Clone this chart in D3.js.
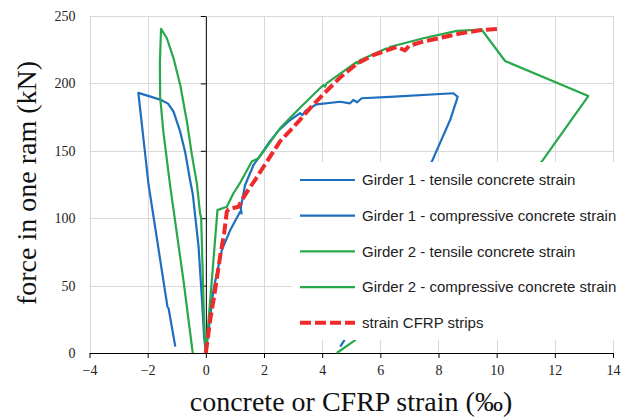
<!DOCTYPE html>
<html>
<head>
<meta charset="utf-8">
<script src="https://cdn.jsdelivr.net/npm/d3@7"></script>
<style>
    body { margin: 0; background: #fff; }
    svg { display: block; }
</style>
</head>
<body>
<svg id="chart" width="629" height="418"></svg>
<script>
"use strict";


//
// Data
//

var xTicks = [-4, -2, 0, 2, 4, 6, 8, 10, 12, 14];
var yTicks = [0, 50, 100, 150, 200, 250];

var seriesNames = [
    "Girder 1 - tensile concrete strain",
    "Girder 1 - compressive concrete strain",
    "Girder 2 - tensile concrete strain",
    "Girder 2 - compressive concrete strain",
    "strain CFRP strips"
];

// [strain (per mille), force (kN)]
var girder1Tensile = [
    [0, 0], [0.26, 46.7], [0.55, 76.4], [0.84, 91.2], [1.18, 104.8], [1.23, 103.5],
    [1.2, 107.5], [1.35, 124.6], [1.64, 139.5], [1.81, 144.5], [2.2, 157], [2.5, 165],
    [2.85, 172], [3.24, 178], [3.32, 176.5], [3.42, 179.5], [3.81, 184.5], [4.62, 186.4],
    [4.96, 185.2], [5.07, 187.7], [5.2, 186], [5.36, 189], [6.33, 190], [8.51, 192.7],
    [8.66, 190], [8.4, 172.8], [7.77, 142], [4.75, 9], [4.62, 4.7]
];

var girder1Compressive = [
    [0, 0], [-0.06, 12], [-0.14, 42], [-0.25, 79], [-0.45, 118], [-0.54, 128],
    [-0.71, 149], [-0.88, 164], [-1.11, 179], [-1.3, 185], [-1.57, 188], [-2.32, 193],
    [-1.97, 125], [-1.32, 34.3], [-1.28, 33], [-1.05, 4.7]
];

var girder2Tensile = [
    [0, 0], [0.18, 47], [0.4, 106], [0.72, 108.5], [0.95, 118.5], [1.2, 127],
    [1.58, 142], [1.81, 144.5], [1.98, 149.4], [2.55, 166.7], [2.9, 174.5], [3.24, 182],
    [4.04, 198.8], [4.1, 197.5], [4.15, 200], [5.19, 216], [5.22, 214.5], [5.28, 217],
    [6.22, 226], [6.25, 224.5], [6.32, 227], [7.48, 233.5], [8.63, 239], [9.48, 240],
    [10.29, 216.6], [13.15, 190.6], [11.55, 142], [5.1, 9], [4.5, 0]
];

var girder2Compressive = [
    [0, 0], [-0.06, 22], [-0.16, 100], [-0.2, 104], [-0.31, 126], [-0.48, 147],
    [-0.65, 171.6], [-0.88, 198.8], [-1.11, 218.6], [-1.34, 233.5], [-1.54, 240.4],
    [-1.58, 215], [-1.57, 190], [-1.46, 164], [-1.23, 124.6], [-0.77, 54], [-0.45, 0]
];

var cfrpStrain = [
    [0, 0], [0.15, 24.5], [0.32, 46.7], [0.49, 71.4], [0.63, 88.8], [0.72, 104.8],
    [0.78, 106.6], [1.12, 108.5], [1.24, 113.5], [1.46, 121], [1.69, 128.3], [2.1, 142],
    [2.55, 157], [2.9, 165], [3.24, 173], [3.6, 182], [4.04, 192], [4.6, 204],
    [5.19, 214.5], [5.76, 221], [6.56, 227], [6.85, 224.5], [7.0, 228], [7.48, 231],
    [8.74, 237], [9.48, 239.6], [10.1, 240.5]
];

var seriesData = [girder1Tensile, girder1Compressive, girder2Tensile, girder2Compressive, cfrpStrain];
var seriesColors = ["#1f6ebf", "#1f6ebf", "#27a84a", "#27a84a", "#ee2a2a"];


//
// Scales
//

var svg = d3.select("#chart");

var x = d3.scaleLinear().domain([-4, 14]).range([89.5, 613]);
var y = d3.scaleLinear().domain([0, 250]).range([353, 16]);

var serifFont = "'Liberation Serif', 'Times New Roman', serif";
var sansFont = "'Liberation Sans', Arial, sans-serif";


//
// Grid
//

var grid = svg.append("g").attr("class", "grid");

grid.selectAll("line.v")
    .data(xTicks)
    .enter().append("line")
    .attr("class", "v")
    .attr("x1", function (d) { return Math.round(x(d)) + 0.5; })
    .attr("x2", function (d) { return Math.round(x(d)) + 0.5; })
    .attr("y1", y(250))
    .attr("y2", y(0))
    .style("stroke", "#d9d9d9")
    .style("stroke-width", 1);

grid.selectAll("line.h")
    .data(yTicks)
    .enter().append("line")
    .attr("class", "h")
    .attr("x1", x(-4))
    .attr("x2", x(14))
    .attr("y1", function (d) { return Math.round(y(d)) + 0.5; })
    .attr("y2", function (d) { return Math.round(y(d)) + 0.5; })
    .style("stroke", "#d9d9d9")
    .style("stroke-width", 1);


//
// Axes
//

var xAxis = svg.append("g")
    .attr("transform", "translate(0," + y(0) + ")")
    .call(d3.axisBottom(x).tickValues(xTicks).tickSizeInner(5).tickSizeOuter(0).tickPadding(7));

xAxis.selectAll("text")
    .style("font-family", serifFont)
    .style("font-size", "14px")
    .style("fill", "#222");

// y axis line and tick marks sit on x = 0
svg.append("g")
    .attr("transform", "translate(" + x(0) + ",0)")
    .call(d3.axisLeft(y).tickValues(yTicks).tickSizeInner(5).tickSizeOuter(0).tickFormat(""));

// y tick labels sit at the left edge of the plot
var yLabels = svg.append("g")
    .attr("transform", "translate(" + x(-4) + ",0)")
    .call(d3.axisLeft(y).tickValues(yTicks).tickSize(0).tickPadding(14));

yLabels.select(".domain").remove();
yLabels.selectAll("text")
    .style("font-family", serifFont)
    .style("font-size", "14px")
    .style("fill", "#222");


//
// Series
//

var line = d3.line()
    .x(function (d) { return x(d[0]); })
    .y(function (d) { return y(d[1]); });

svg.selectAll("path.series")
    .data(seriesData)
    .enter().append("path")
    .attr("class", "series")
    .attr("d", line)
    .style("fill", "none")
    .style("stroke", function (d, i) { return seriesColors[i]; })
    .style("stroke-width", function (d, i) { return i === 4 ? 4 : 2.2; })
    .style("stroke-dasharray", function (d, i) { return i === 4 ? "11,4" : null; })
    .style("stroke-linejoin", "round");


//
// Legend
//

var legend = svg.append("g").attr("class", "legend");

legend.append("rect")
    .attr("x", 292)
    .attr("y", 162)
    .attr("width", 330)
    .attr("height", 178)
    .style("fill", "#fff");

var legendRows = legend.selectAll("g.row")
    .data(seriesNames)
    .enter().append("g")
    .attr("class", "row")
    .attr("transform", function (d, i) { return "translate(300," + (180 + i * 35.7) + ")"; });

legendRows.append("line")
    .attr("x1", 0)
    .attr("x2", 55)
    .style("stroke", function (d, i) { return seriesColors[i]; })
    .style("stroke-width", function (d, i) { return i === 4 ? 4 : 2.2; })
    .style("stroke-dasharray", function (d, i) { return i === 4 ? "11,4" : null; });

legendRows.append("text")
    .attr("x", 62)
    .attr("dy", "0.35em")
    .style("font-family", sansFont)
    .style("font-size", "15px")
    .style("fill", "#222")
    .text(function (d) { return d; });


//
// Axis titles
//

svg.append("text")
    .attr("transform", "translate(36,183) rotate(-90)")
    .attr("text-anchor", "middle")
    .style("font-family", serifFont)
    .style("font-size", "28px")
    .style("fill", "#111")
    .text("force in one ram (kN)");

svg.append("text")
    .attr("x", 351)
    .attr("y", 411)
    .attr("text-anchor", "middle")
    .style("font-family", serifFont)
    .style("font-size", "28px")
    .style("fill", "#111")
    .text("concrete or CFRP strain (\u2030)");

</script>
</body>
</html>
